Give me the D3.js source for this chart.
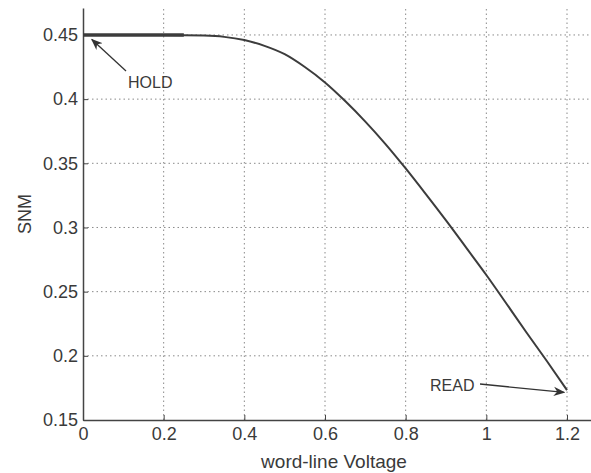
<!DOCTYPE html>
<html>
<head>
<meta charset="utf-8">
<script src="https://cdn.jsdelivr.net/npm/d3@7"></script>
<style>
  body { margin: 0; background: #fff; }
  text { font-family: "Liberation Sans", Arial, sans-serif; fill: #3a3a3a; }
</style>
</head>
<body>
<div id="chart"></div>
<script>
// word-line voltage vs SNM
var voltage = [0, 0.1, 0.2, 0.3, 0.35, 0.4, 0.45, 0.5, 0.55, 0.6, 0.65, 0.7, 0.75, 0.8, 0.85, 0.9, 0.95, 1.0, 1.05, 1.1, 1.15, 1.2];
var snm = [0.45, 0.45, 0.45, 0.4495, 0.4485, 0.446, 0.4415, 0.435, 0.425, 0.413, 0.3985, 0.3825, 0.365, 0.346, 0.326, 0.3055, 0.2843, 0.263, 0.2406, 0.218, 0.196, 0.1733];

// the bold start of the curve
var holdVoltage = [0, 0.25];
var holdSnm = [0.45, 0.45];

var xTicks = [0, 0.2, 0.4, 0.6, 0.8, 1.0, 1.2];
var xTickLabels = ["0", "0.2", "0.4", "0.6", "0.8", "1", "1.2"];
var yTicks = [0.15, 0.2, 0.25, 0.3, 0.35, 0.4, 0.45];
var yTickLabels = ["0.15", "0.2", "0.25", "0.3", "0.35", "0.4", "0.45"];

var width = 591, height = 473;

var x = d3.scaleLinear().domain([0, 1.26]).range([83, 591.2]);
var y = d3.scaleLinear().domain([0.15, 0.471]).range([420, 8]);

var svg = d3.select("#chart")
            .append("svg")
            .attr("width", width)
            .attr("height", height);

var defs = svg.append("defs");
defs.append("marker")
    .attr("id", "arrow")
    .attr("viewBox", "0 0 10 10")
    .attr("refX", 9)
    .attr("refY", 5)
    .attr("markerWidth", 9)
    .attr("markerHeight", 9)
    .attr("orient", "auto")
  .append("path")
    .attr("d", "M0,1 L10,5 L0,9 L3,5 Z")
    .attr("fill", "#333");

// grid
svg.selectAll(".vgrid")
    .data(xTicks.slice(1))
    .enter()
      .append("line")
      .attr("x1", function (d) { return x(d); })
      .attr("x2", function (d) { return x(d); })
      .attr("y1", y.range()[0])
      .attr("y2", y.range()[1])
      .attr("stroke", "#8a8a8a")
      .attr("stroke-width", 1)
      .attr("stroke-dasharray", "1.5,3");

svg.selectAll(".hgrid")
    .data(yTicks.slice(1))
    .enter()
      .append("line")
      .attr("x1", x.range()[0])
      .attr("x2", x.range()[1])
      .attr("y1", function (d) { return y(d); })
      .attr("y2", function (d) { return y(d); })
      .attr("stroke", "#8a8a8a")
      .attr("stroke-width", 1)
      .attr("stroke-dasharray", "1.5,3");

// axes
var xAxis = d3.axisBottom(x)
              .tickValues(xTicks)
              .tickSizeInner(-5)
              .tickSizeOuter(0)
              .tickPadding(10)
              .tickFormat(function (d, i) { return xTickLabels[i]; });

var yAxis = d3.axisLeft(y)
              .tickValues(yTicks)
              .tickSizeInner(-5)
              .tickSizeOuter(0)
              .tickPadding(5)
              .tickFormat(function (d, i) { return yTickLabels[i]; });

var gx = svg.append("g")
            .attr("transform", "translate(0," + y.range()[0] + ")")
            .call(xAxis);
var gy = svg.append("g")
            .attr("transform", "translate(" + x.range()[0] + ",0)")
            .call(yAxis);

[gx, gy].forEach(function (g) {
  g.select(".domain").attr("stroke", "#444").attr("stroke-width", 1.5);
  g.selectAll(".tick line").attr("stroke", "#444");
  g.selectAll(".tick text")
    .attr("font-size", 18)
    .attr("font-family", "Liberation Sans, Arial, sans-serif")
    .attr("fill", "#444");
});
gx.selectAll(".tick text").attr("dy", "0.55em");

// curve
var line = d3.line()
             .curve(d3.curveMonotoneX)
             .x(function (d) { return x(d[0]); })
             .y(function (d) { return y(d[1]); });

svg.append("path")
    .datum(d3.zip(voltage, snm))
    .attr("d", line)
    .attr("fill", "none")
    .attr("stroke", "#3c3c3c")
    .attr("stroke-width", 2);

svg.append("path")
    .datum(d3.zip(holdVoltage, holdSnm))
    .attr("d", line)
    .attr("fill", "none")
    .attr("stroke", "#3c3c3c")
    .attr("stroke-width", 3.5);

// annotations
svg.append("line")
    .attr("x1", 126).attr("y1", 71)
    .attr("x2", x(0.022)).attr("y2", y(0.4465))
    .attr("stroke", "#333")
    .attr("stroke-width", 1.3)
    .attr("marker-end", "url(#arrow)");

svg.append("text")
    .attr("x", 128)
    .attr("y", 88)
    .attr("font-size", 16)
    .text("HOLD");

svg.append("line")
    .attr("x1", 480).attr("y1", 384)
    .attr("x2", x(1.193)).attr("y2", y(0.1715))
    .attr("stroke", "#333")
    .attr("stroke-width", 1.3)
    .attr("marker-end", "url(#arrow)");

svg.append("text")
    .attr("x", 430)
    .attr("y", 391)
    .attr("font-size", 16)
    .text("READ");

// axis titles
svg.append("text")
    .attr("x", 334)
    .attr("y", 468)
    .attr("text-anchor", "middle")
    .attr("font-size", 19)
    .text("word-line Voltage");

svg.append("text")
    .attr("transform", "translate(31,214) rotate(-90)")
    .attr("text-anchor", "middle")
    .attr("font-size", 18)
    .text("SNM");
</script>
</body>
</html>
